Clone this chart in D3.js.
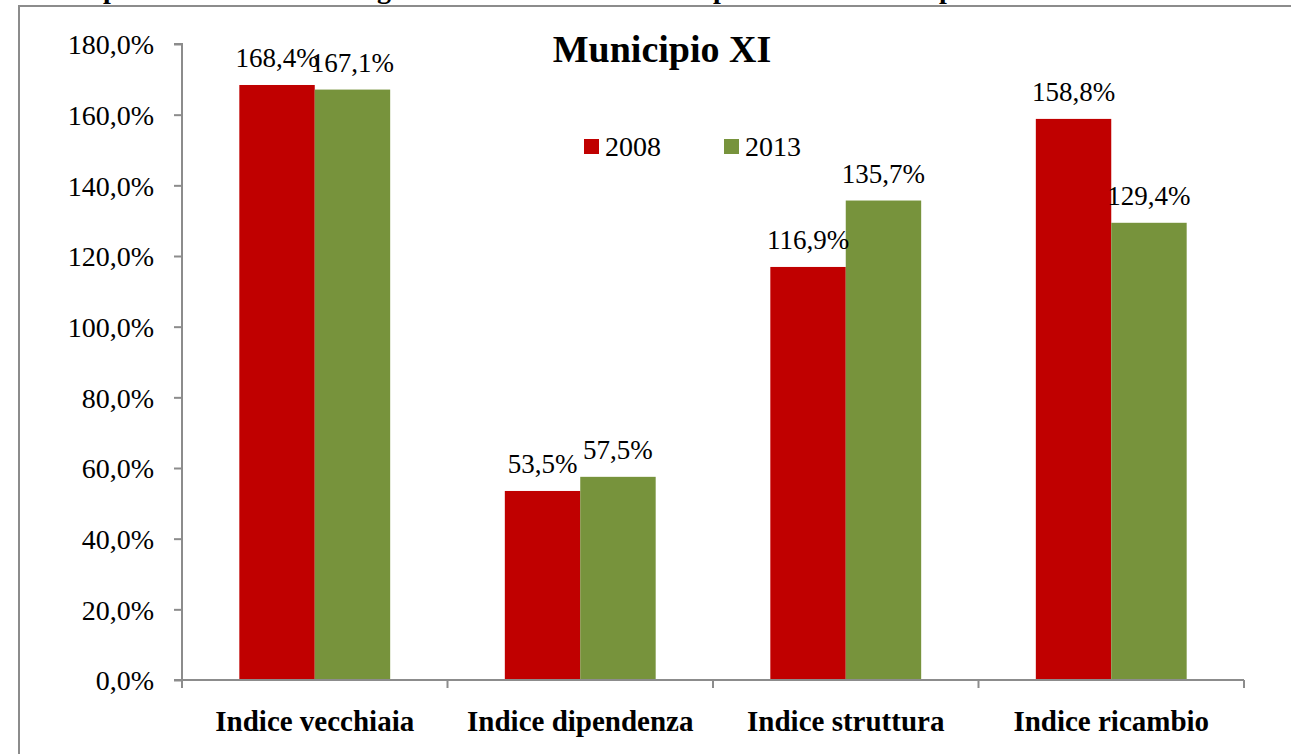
<!DOCTYPE html>
<html>
<head>
<meta charset="utf-8">
<script src="https://cdn.jsdelivr.net/npm/d3@7"></script>
<style>
  body { margin: 0; background: #fff; }
  svg { display: block; }
  svg text { font-family: "Times New Roman", "Liberation Serif", Times, serif; }
</style>
</head>
<body>
<div id="chart"></div>
<script>
'use strict';

const categories = ['Indice vecchiaia', 'Indice dipendenza', 'Indice struttura', 'Indice ricambio'];
const seriesNames = ['2008', '2013'];
const values2008 = [168.4, 53.5, 116.9, 158.8];
const values2013 = [167.1, 57.5, 135.7, 129.4];
const yTicks = [0, 20, 40, 60, 80, 100, 120, 140, 160, 180];
const colors = ['#c00000', '#77933c'];

const W = 1291, H = 754;
const margin = {left: 182, right: 47, top: 44, bottom: 74};

const svg = d3.select('#chart')
    .append('svg')
    .attr('width', W)
    .attr('height', H);

// clipped line of the document text above the chart (only descenders are visible)
svg.append('g')
    .attr('font-weight', 'bold')
    .attr('font-size', 28)
    .selectAll('text')
    .data([{c: 'p', x: 103}, {c: 'g', x: 377}, {c: 'p', x: 713}, {c: 'p', x: 939}])
    .join('text')
    .attr('x', d => d.x)
    .attr('y', -2)
    .text(d => d.c);

// chart frame
svg.append('rect')
    .attr('x', 19)
    .attr('y', 6)
    .attr('width', W + 10)
    .attr('height', H + 10)
    .attr('fill', 'none')
    .attr('stroke', '#8c8c8c')
    .attr('stroke-width', 2);

const x0 = d3.scaleBand()
    .domain(categories)
    .range([margin.left, W - margin.right])
    .padding(0);

const x1 = d3.scaleBand()
    .domain(seriesNames)
    .range([0, x0.bandwidth()])
    .paddingInner(0)
    .paddingOuter(0.76);

const y = d3.scaleLinear()
    .domain([0, 180])
    .range([H - margin.bottom, margin.top]);

const fmt = v => v.toFixed(1).replace('.', ',') + '%';

const rows = categories.map((c, i) => ({
    cat: c,
    vals: [values2008[i], values2013[i]].map((v, j) => ({key: seriesNames[j], v: v, color: colors[j]}))
}));

// bars
const groups = svg.append('g')
    .selectAll('g')
    .data(rows)
    .join('g')
    .attr('transform', d => `translate(${x0(d.cat)},0)`);

groups.selectAll('rect')
    .data(d => d.vals)
    .join('rect')
    .attr('x', d => x1(d.key))
    .attr('y', d => y(d.v))
    .attr('width', x1.bandwidth())
    .attr('height', d => y(0) - y(d.v))
    .attr('fill', d => d.color);

groups.selectAll('text')
    .data(d => d.vals)
    .join('text')
    .attr('x', d => x1(d.key) + x1.bandwidth() / 2)
    .attr('y', d => y(d.v) - 18)
    .attr('text-anchor', 'middle')
    .attr('font-size', 27)
    .attr('fill', '#000')
    .text(d => fmt(d.v));

// y axis
const yAxis = svg.append('g')
    .attr('transform', `translate(${margin.left},0)`)
    .call(d3.axisLeft(y).tickValues(yTicks).tickSize(8).tickPadding(20).tickFormat(fmt));
yAxis.selectAll('text')
    .attr('font-size', 28)
    .attr('fill', '#000')
    .attr('dy', '0.35em');

// x axis
const xAxis = svg.append('g')
    .attr('transform', `translate(0,${y(0)})`)
    .call(d3.axisBottom(x0).tickSize(0).tickPadding(30));
xAxis.selectAll('text')
    .attr('font-size', 29)
    .attr('font-weight', 'bold')
    .attr('fill', '#000');

// ticks between categories
const boundaries = categories.map(c => x0(c)).concat([x0.range()[1]]);
xAxis.selectAll('line.bound')
    .data(boundaries)
    .join('line')
    .attr('class', 'bound')
    .attr('x1', d => d)
    .attr('x2', d => d)
    .attr('y1', 0)
    .attr('y2', 8);

svg.selectAll('.domain, .tick line, line.bound')
    .attr('stroke', '#8c8c8c')
    .attr('stroke-width', 2);
yAxis.select('.domain').attr('d', `M-8,${y(180)}H0V${y(0)}`);
xAxis.select('.domain').attr('d', `M${x0.range()[0] - 8},0H${x0.range()[1]}`);

// title
svg.append('text')
    .attr('x', 662)
    .attr('y', 62)
    .attr('text-anchor', 'middle')
    .attr('font-size', 38)
    .attr('font-weight', 'bold')
    .text('Municipio XI');

// legend
const legend = svg.append('g')
    .selectAll('g')
    .data(seriesNames)
    .join('g')
    .attr('transform', (d, i) => `translate(${584 + i * 140},139)`);
legend.append('rect')
    .attr('width', 15)
    .attr('height', 15)
    .attr('fill', (d, i) => colors[i]);
legend.append('text')
    .attr('x', 21)
    .attr('y', 17)
    .attr('font-size', 28)
    .text(d => d);
</script>
</body>
</html>
